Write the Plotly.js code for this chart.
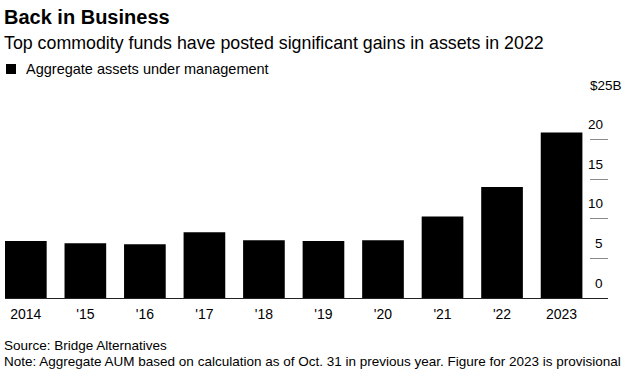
<!DOCTYPE html>
<html>
<head>
<meta charset="utf-8">
<script src="https://cdn.plot.ly/plotly-3.0.1.min.js"></script>
<style>html,body{margin:0;padding:0;background:#fff;}#chart{width:630px;height:382px;}</style>
</head>
<body>
<div id="chart"></div>
<script>
const years = [2014, 2015, 2016, 2017, 2018, 2019, 2020, 2021, 2022, 2023];
const yearLabels = ["2014", "'15", "'16", "'17", "'18", "'19", "'20", "'21", "'22", "2023"];
const aum = [7.2, 6.9, 6.8, 8.3, 7.3, 7.2, 7.3, 10.3, 14.0, 20.9];
const yTickVals = [0, 5, 10, 15, 20, 25];
const yTickLabels = ["0", "5", "10", "15", "20", "$25B"];

const titleText = "Back in Business";
const subtitleText = "Top commodity funds have posted significant gains in assets in 2022";
const seriesName = "Aggregate assets under management";
const sourceText = "Source: Bridge Alternatives";
const noteText = "Note: Aggregate AUM based on calculation as of Oct. 31 in previous year. Figure for 2023 is provisional";

const FONT = "Liberation Sans, Arial, Helvetica, sans-serif";
const W = 630, H = 382;
const L = 5, R = 608, T = 100, B = 298;
const px = x => (x - L) / (R - L);
const py = y => (B - y) / (B - T);

const trace = {
  type: "bar",
  x: years,
  y: aum,
  name: seriesName,
  marker: {color: "#000000"},
  hoverinfo: "x+y",
  showlegend: false
};

const yLabelAnnotations = yTickVals.map((v, i) => {
  const last = i === yTickVals.length - 1;
  return {
    text: yTickLabels[i], xref: "paper", yref: "y",
    x: last ? px(624) : px(605), y: v, yshift: 15,
    xanchor: "right", yanchor: "middle", showarrow: false,
    font: {family: FONT, size: 13.5, color: "#000000"}
  };
});

const layout = {
  width: W, height: H,
  margin: {l: L, r: W - R, t: T, b: H - B, pad: 0},
  paper_bgcolor: "#ffffff",
  plot_bgcolor: "#ffffff",
  bargap: 0.30,
  font: {family: FONT, color: "#000000", size: 14},
  title: {
    text: "<b>" + titleText + "</b>",
    font: {family: FONT, size: 20, color: "#000000"},
    xref: "container", yref: "container",
    x: 4 / W, xanchor: "left",
    y: 1 - 17 / H, yanchor: "middle",
    pad: {l: 0, r: 0, t: 0, b: 0}
  },
  xaxis: {
    range: [2013.65, 2023.78],
    tickmode: "array",
    tickvals: years,
    ticktext: yearLabels,
    ticks: "",
    showgrid: false,
    zeroline: false,
    showline: true,
    linecolor: "#222222",
    linewidth: 1,
    tickfont: {family: FONT, size: 14, color: "#000000"},
    ticklabelstandoff: 3,
    fixedrange: true
  },
  yaxis: {
    range: [0, 25],
    side: "right",
    tickmode: "array",
    tickvals: yTickVals,
    ticktext: yTickLabels,
    ticks: "inside",
    ticklen: 18,
    tickwidth: 1,
    tickcolor: "#8a8a8a",
    showticklabels: false,
    showgrid: false,
    zeroline: false,
    showline: false,
    fixedrange: true
  },
  shapes: [
    {type: "rect", xref: "paper", yref: "paper",
     x0: px(6), x1: px(16), y0: py(74), y1: py(64),
     fillcolor: "#000000", line: {width: 0}}
  ],
  annotations: [
    {text: subtitleText, xref: "paper", yref: "paper", x: px(2), y: py(43), xanchor: "left", yanchor: "middle",
     showarrow: false, font: {family: FONT, size: 17.8, color: "#000000"}},
    {text: seriesName, xref: "paper", yref: "paper", x: px(24), y: py(69), xanchor: "left", yanchor: "middle",
     showarrow: false, font: {family: FONT, size: 14.5, color: "#000000"}},
    {text: sourceText, xref: "paper", yref: "paper", x: px(2), y: py(345), xanchor: "left", yanchor: "middle",
     showarrow: false, font: {family: FONT, size: 13.5, color: "#000000"}},
    {text: noteText, xref: "paper", yref: "paper", x: px(2), y: py(361), xanchor: "left", yanchor: "middle",
     showarrow: false, font: {family: FONT, size: 13.5, color: "#000000"}}
  ].concat(yLabelAnnotations)
};

Plotly.newPlot("chart", [trace], layout, {displayModeBar: false, staticPlot: true});
</script>
</body>
</html>
